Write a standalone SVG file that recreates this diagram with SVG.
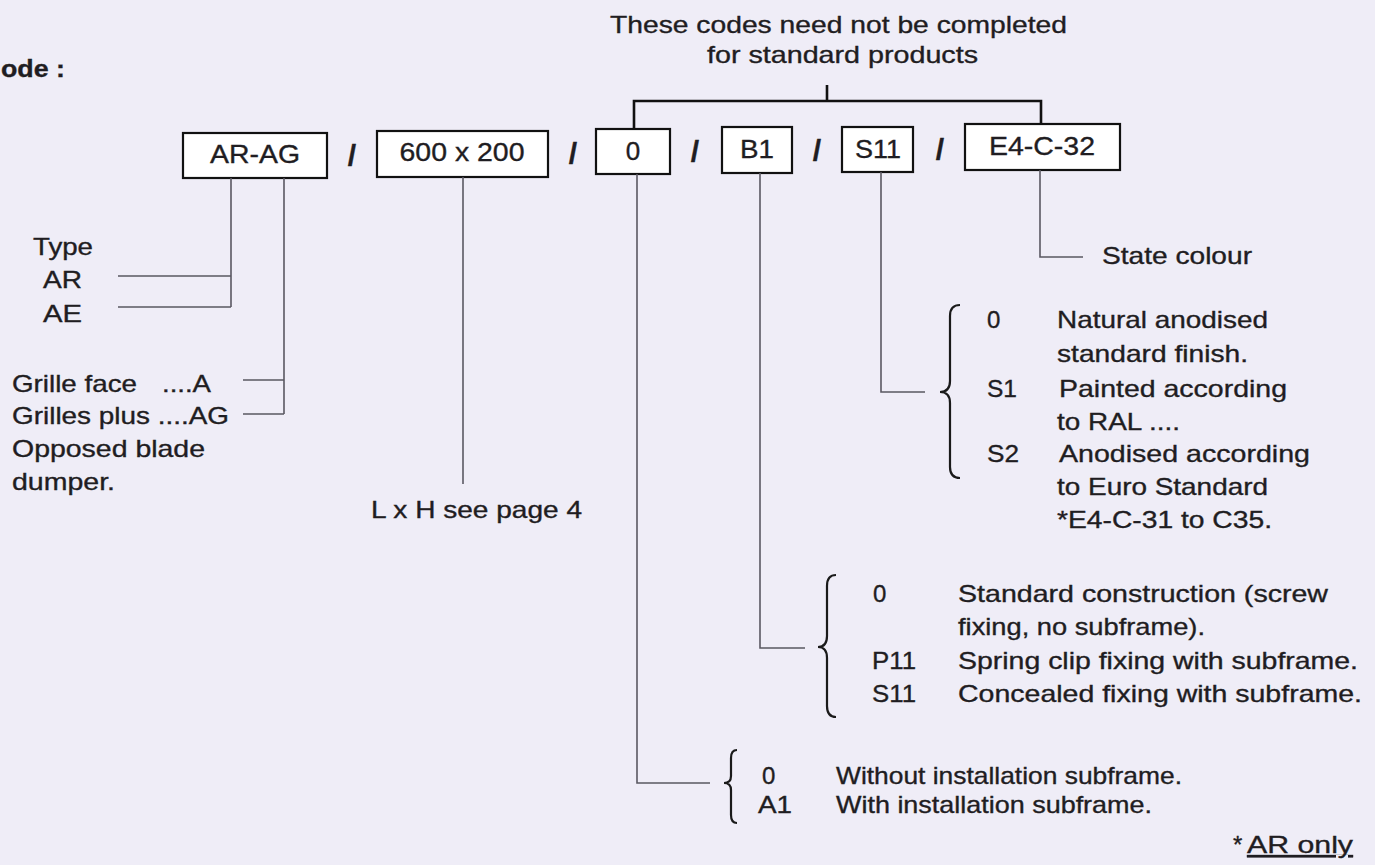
<svg xmlns="http://www.w3.org/2000/svg" width="1375" height="865" viewBox="0 0 1375 865">
<style>
text{font-family:"Liberation Sans",Arial,Helvetica,sans-serif;font-size:24px;fill:#1f1d22;stroke:#1f1d22;stroke-width:0.35px;}
.box{fill:#ffffff;stroke:#111;stroke-width:2.2;}
.bt{font-size:26px;text-anchor:middle;}
.sl{font-size:30px;font-weight:bold;text-anchor:middle;}
.ln{fill:none;stroke:#5a5862;stroke-width:1.6;}
.br{fill:none;stroke:#111;stroke-width:2.6;}
.cb{fill:none;stroke:#1a1a1a;stroke-width:2.2;}
</style>
<rect width="1375" height="865" fill="#efedf7"/>

<g id="heading">
<text x="1" y="77" font-weight="bold" textLength="64" lengthAdjust="spacingAndGlyphs">ode :</text>
</g>

<g id="note">
<text x="610" y="33" textLength="457" lengthAdjust="spacingAndGlyphs">These codes need not be completed</text>
<text x="707" y="63" textLength="271" lengthAdjust="spacingAndGlyphs">for standard products</text>
</g>

<g id="box-type">
<rect class="box" x="183" y="133" width="144" height="45"/>
<text class="bt" x="255" y="163" textLength="90" lengthAdjust="spacingAndGlyphs">AR-AG</text>
</g>
<g id="box-size">
<rect class="box" x="377" y="131" width="171" height="46"/>
<text class="bt" x="462" y="161" textLength="125" lengthAdjust="spacingAndGlyphs">600 x 200</text>
</g>
<g id="box-install">
<rect class="box" x="596" y="129" width="74" height="45"/>
<text class="bt" x="633" y="160">0</text>
</g>
<g id="box-fixing">
<rect class="box" x="722" y="127" width="70" height="46"/>
<text class="bt" x="757" y="158" textLength="34" lengthAdjust="spacingAndGlyphs">B1</text>
</g>
<g id="box-finish">
<rect class="box" x="842" y="127" width="71" height="45"/>
<text class="bt" x="878" y="158" textLength="46" lengthAdjust="spacingAndGlyphs">S11</text>
</g>
<g id="box-colour">
<rect class="box" x="965" y="124" width="155" height="46"/>
<text class="bt" x="1042" y="155" textLength="106" lengthAdjust="spacingAndGlyphs">E4-C-32</text>
</g>

<g id="slashes">
<text class="sl" x="352" y="166">/</text>
<text class="sl" x="573" y="164">/</text>
<text class="sl" x="695" y="162">/</text>
<text class="sl" x="817" y="161">/</text>
<text class="sl" x="940" y="160">/</text>
</g>

<g id="connectors">
<path class="br" d="M827 85 V101 M634 130 V101 H1041 V125"/>
<path class="ln" d="M231 178 V307 M118 276 H231 M118 307 H231"/>
<path class="ln" d="M284 178 V414 M243 380 H284 M243 414 H284"/>
<path class="ln" d="M463 177 V484"/>
<path class="ln" d="M637 174 V783 H710"/>
<path class="ln" d="M760 173 V648 H805"/>
<path class="ln" d="M881 172 V392 H925"/>
<path class="ln" d="M1040 170 V257 H1083"/>
<path class="cb" d="M960 305 Q950 305 950 316 L950 381 Q950 392 940 392 Q950 392 950 403 L950 467 Q950 478 960 478"/>
<path class="cb" d="M836 575 Q827 575 827 586 L827 636 Q827 647 818 647 Q827 647 827 658 L827 706 Q827 717 836 717"/>
<path class="cb" d="M737 750 Q731 750 731 758 L731 776 Q731 783 724 783 Q731 783 731 790 L731 815 Q731 823 737 823"/>
</g>

<g id="label-type">
<text x="33" y="255" textLength="60" lengthAdjust="spacingAndGlyphs">Type</text>
<text x="43" y="288" textLength="39" lengthAdjust="spacingAndGlyphs">AR</text>
<text x="43" y="322" textLength="39" lengthAdjust="spacingAndGlyphs">AE</text>
</g>

<g id="label-grille">
<text x="12" y="392" textLength="125" lengthAdjust="spacingAndGlyphs">Grille face</text>
<text x="162" y="392" textLength="49" lengthAdjust="spacingAndGlyphs">....A</text>
<text x="12" y="424" textLength="217" lengthAdjust="spacingAndGlyphs">Grilles plus ....AG</text>
<text x="12" y="457" textLength="193" lengthAdjust="spacingAndGlyphs">Opposed blade</text>
<text x="12" y="490" textLength="103" lengthAdjust="spacingAndGlyphs">dumper.</text>
</g>

<g id="label-size">
<text x="371" y="518" textLength="211" lengthAdjust="spacingAndGlyphs">L x H see page 4</text>
</g>

<g id="label-colour">
<text x="1102" y="264" textLength="150" lengthAdjust="spacingAndGlyphs">State colour</text>
</g>

<g id="label-finish">
<text x="987" y="328">0</text>
<text x="987" y="397" textLength="30" lengthAdjust="spacingAndGlyphs">S1</text>
<text x="987" y="462" textLength="32" lengthAdjust="spacingAndGlyphs">S2</text>
<text x="1057" y="328" textLength="211" lengthAdjust="spacingAndGlyphs">Natural anodised</text>
<text x="1057" y="362" textLength="191" lengthAdjust="spacingAndGlyphs">standard finish.</text>
<text x="1059" y="397" textLength="228" lengthAdjust="spacingAndGlyphs">Painted according</text>
<text x="1057" y="430" textLength="123" lengthAdjust="spacingAndGlyphs">to RAL ....</text>
<text x="1059" y="462" textLength="251" lengthAdjust="spacingAndGlyphs">Anodised according</text>
<text x="1057" y="495" textLength="211" lengthAdjust="spacingAndGlyphs">to Euro Standard</text>
<text x="1057" y="528" textLength="215" lengthAdjust="spacingAndGlyphs">*E4-C-31 to C35.</text>
</g>

<g id="label-fixing">
<text x="873" y="602">0</text>
<text x="872" y="669" textLength="44" lengthAdjust="spacingAndGlyphs">P11</text>
<text x="872" y="702" textLength="44" lengthAdjust="spacingAndGlyphs">S11</text>
<text x="958" y="602" textLength="370" lengthAdjust="spacingAndGlyphs">Standard construction (screw</text>
<text x="958" y="635" textLength="247" lengthAdjust="spacingAndGlyphs">fixing, no subframe).</text>
<text x="958" y="669" textLength="400" lengthAdjust="spacingAndGlyphs">Spring clip fixing with subframe.</text>
<text x="958" y="702" textLength="404" lengthAdjust="spacingAndGlyphs">Concealed fixing with subframe.</text>
</g>

<g id="label-install">
<text x="762" y="784">0</text>
<text x="758" y="813" textLength="34" lengthAdjust="spacingAndGlyphs">A1</text>
<text x="836" y="784" textLength="346" lengthAdjust="spacingAndGlyphs">Without installation subframe.</text>
<text x="836" y="813" textLength="316" lengthAdjust="spacingAndGlyphs">With installation subframe.</text>
</g>

<g id="footnote">
<text x="1233" y="853">*</text>
<text x="1247" y="853" text-decoration="underline" textLength="106" lengthAdjust="spacingAndGlyphs">AR only</text>
</g>
</svg>
